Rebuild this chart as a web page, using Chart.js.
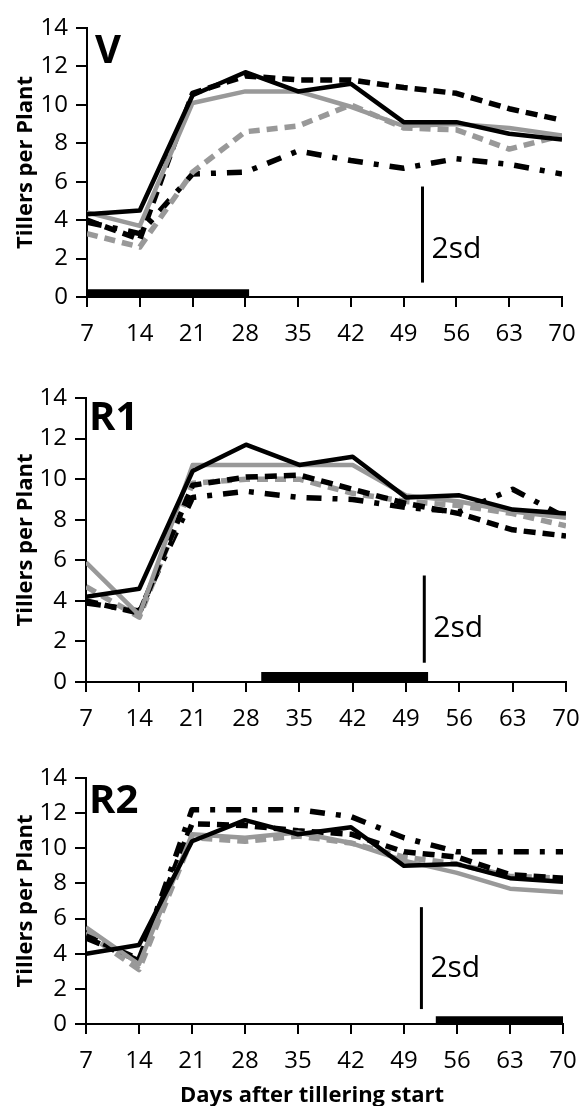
<!DOCTYPE html>
<html>
<head>
<meta charset="utf-8">
<script src="https://cdn.jsdelivr.net/npm/chart.js@4.4.1/dist/chart.umd.min.js"></script>
<style>
  html, body { margin: 0; padding: 0; background: #fff; overflow: hidden; }
  body { width: 580px; height: 1106px; position: relative; }
  canvas { position: absolute; left: 0; display: block; }
</style>
</head>
<body>
<canvas id="chartV" width="580" height="360" style="top:0px"></canvas>
<canvas id="chartR1" width="580" height="400" style="top:350px"></canvas>
<canvas id="chartR2" width="580" height="393" style="top:716px"></canvas>
<script>
// days after tillering start, shared by all panels
const days = [7, 14, 21, 28, 35, 42, 49, 56, 63, 70];
const dayTicks = [7, 14, 21, 28, 35, 42, 49, 56, 63, 70];
const tillerTicks = [0, 2, 4, 6, 8, 10, 12, 14];

// panel V
const vSolidBlack = [4.3, 4.5, 10.5, 11.7, 10.7, 11.1, 9.1, 9.1, 8.5, 8.2];
const vSolidGray  = [4.4, 3.7, 10.1, 10.7, 10.7, 9.9, 8.9, 9.0, 8.8, 8.4];
const vDashBlack  = [4.0, 3.0, 10.6, 11.5, 11.3, 11.3, 10.9, 10.6, 9.8, 9.2];
const vDashGray   = [3.3, 2.6, 6.5, 8.6, 8.9, 10.0, 8.8, 8.7, 7.7, 8.4];
const vDashDot    = [3.9, 3.3, 6.4, 6.5, 7.6, 7.1, 6.7, 7.2, 6.9, 6.4];

// panel R1
const r1SolidBlack = [4.2, 4.6, 10.4, 11.7, 10.7, 11.1, 9.1, 9.2, 8.5, 8.3];
const r1SolidGray  = [5.9, 3.3, 10.7, 10.7, 10.7, 10.7, 9.2, 8.9, 8.4, 8.1];
const r1DashBlack  = [4.0, 3.4, 9.7, 10.1, 10.2, 9.5, 8.8, 8.3, 7.5, 7.2];
const r1DashGray   = [4.7, 3.2, 9.8, 10.0, 10.0, 9.3, 8.9, 8.7, 8.3, 7.7];
const r1DashDot    = [3.9, 3.5, 9.1, 9.4, 9.1, 9.0, 8.6, 8.4, 9.5, 8.1];

// panel R2
const r2SolidBlack = [4.0, 4.5, 10.4, 11.6, 10.8, 11.2, 9.0, 9.1, 8.3, 8.1];
const r2SolidGray  = [5.5, 3.4, 10.8, 10.6, 10.9, 10.3, 9.3, 8.6, 7.7, 7.5];
const r2DashBlack  = [5.0, 3.7, 11.4, 11.3, 11.0, 10.8, 9.8, 9.5, 8.5, 8.3];
const r2DashGray   = [5.2, 3.1, 10.6, 10.4, 10.7, 10.3, 9.5, 9.1, 8.4, 8.3];
const r2DashDot    = [4.9, 3.6, 12.2, 12.2, 12.2, 11.8, 10.6, 9.8, 9.8, 9.8];

// 2sd scale bars (V, R1, R2)
const sdDay  = [51.5, 51.4, 51.3];
const sdLow  = [0.75, 0.95, 0.85];
const sdHigh = [5.75, 5.25, 6.65];

// treatment periods drawn on the x axis (V, R1, R2)
const trtStart = [7, 30, 53.2];
const trtEnd   = [28.5, 51.9, 70];
const trtLevel = [0.2, 0.25, 0.22];

const GRAY = '#999999';
const FONT = '"Open Sans", "DejaVu Sans", sans-serif';

function pts(ys) {
  return days.map((d, i) => ({ x: d, y: ys[i] }));
}

// panel letter, "2sd" text and the shared x title
const panelText = {
  id: 'panelText',
  afterDraw(chart, args, opts) {
    const ctx = chart.ctx;
    const xs = chart.scales.x, ys = chart.scales.y;
    ctx.save();
    ctx.fillStyle = '#000';
    ctx.textBaseline = 'alphabetic';
    ctx.textAlign = 'left';
    ctx.font = 'bold 40px ' + FONT;
    ctx.fillText(opts.letter, opts.letterX, opts.letterY);
    ctx.font = '30px ' + FONT;
    ctx.fillText('2sd', xs.getPixelForValue(opts.sdDay) + 9, ys.getPixelForValue(opts.sdLow) + opts.sdDy);
    if (opts.xTitle) {
      ctx.font = 'bold 22px ' + FONT;
      ctx.textAlign = 'center';
      ctx.textBaseline = 'middle';
      ctx.fillText(opts.xTitle, 312, chart.chartArea.bottom + 72);
    }
    ctx.restore();
  }
};

function makePanel(cfg) {
  const s = cfg.series;
  const line = (data, color, width, dash) => ({
    data: pts(data),
    borderColor: color,
    borderWidth: width,
    borderDash: dash,
    borderJoinStyle: 'round',
    pointRadius: 0,
    tension: 0,
    fill: false
  });

  new Chart(document.getElementById(cfg.id), {
    type: 'line',
    data: {
      datasets: [
        {
          data: [{ x: sdDay[cfg.k], y: sdLow[cfg.k] }, { x: sdDay[cfg.k], y: sdHigh[cfg.k] }],
          borderColor: '#000', borderWidth: 3, pointRadius: 0, clip: false
        },
        {
          data: [{ x: trtStart[cfg.k], y: trtLevel[cfg.k] }, { x: trtEnd[cfg.k], y: trtLevel[cfg.k] }],
          borderColor: '#000', borderWidth: cfg.trtWidth, borderCapStyle: 'butt', pointRadius: 0, clip: false
        },
        line(s[0], '#000', 4.5, []),
        line(s[1], GRAY, 4.5, []),
        line(s[2], '#000', 5.5, [12, 7]),
        line(s[3], GRAY, 5.5, [11, 7]),
        line(s[4], '#000', 5.5, [15, 11, 5, 11])
      ]
    },
    options: {
      responsive: false,
      animation: false,
      devicePixelRatio: 1,
      layout: { padding: { top: cfg.top, right: 580 - cfg.right, left: 0, bottom: 0 } },
      plugins: {
        legend: { display: false },
        tooltip: { enabled: false },
        panelText: {
          letter: cfg.letter, letterX: cfg.letterX, letterY: cfg.letterY,
          sdDay: sdDay[cfg.k], sdLow: sdLow[cfg.k], sdDy: cfg.sdDy,
          xTitle: cfg.xTitle ? 'Days after tillering start' : ''
        }
      },
      scales: {
        x: {
          type: 'linear',
          min: 7,
          max: 70,
          afterBuildTicks: (sc) => { sc.ticks = dayTicks.map(v => ({ value: v })); },
          afterFit: (sc) => {
            sc.height = cfg.height - cfg.bottom;
            sc.paddingLeft = 0;
            sc.paddingRight = 0;
          },
          grid: { drawOnChartArea: false, color: '#000', lineWidth: 2, tickLength: 10 },
          border: { color: '#000', width: 2 },
          ticks: { color: '#000', font: { family: FONT, size: 24 }, padding: 13, maxRotation: 0 }
        },
        y: {
          min: 0,
          max: 14,
          afterBuildTicks: (sc) => { sc.ticks = tillerTicks.map(v => ({ value: v })); },
          afterFit: (sc) => {
            sc.width = cfg.left;
            sc.paddingTop = 0;
            sc.paddingBottom = 0;
          },
          grid: { drawOnChartArea: false, color: '#000', lineWidth: 2, tickLength: 11 },
          border: { color: '#000', width: 2 },
          ticks: { color: '#000', font: { family: FONT, size: 24 }, padding: 8 },
          title: {
            display: true,
            text: 'Tillers per Plant',
            color: '#000',
            font: { family: FONT, size: 22, weight: 'bold' },
            padding: { top: 13, bottom: 0 }
          }
        }
      }
    },
    plugins: [panelText]
  });
}

makePanel({ id: 'chartV', k: 0, letter: 'V', letterX: 95, letterY: 63,
  series: [vSolidBlack, vSolidGray, vDashBlack, vDashGray, vDashDot],
  top: 28, bottom: 297, height: 360, left: 87, right: 562, trtWidth: 8, sdDy: -25, xTitle: false });

makePanel({ id: 'chartR1', k: 1, letter: 'R1', letterX: 89, letterY: 80,
  series: [r1SolidBlack, r1SolidGray, r1DashBlack, r1DashGray, r1DashDot],
  top: 48, bottom: 332, height: 400, left: 86, right: 566, trtWidth: 10, sdDy: -26, xTitle: false });

makePanel({ id: 'chartR2', k: 2, letter: 'R2', letterX: 89, letterY: 97,
  series: [r2SolidBlack, r2SolidGray, r2DashBlack, r2DashGray, r2DashDot],
  top: 62, bottom: 308, height: 393, left: 86, right: 563, trtWidth: 8, sdDy: -32, xTitle: true });
</script>
</body>
</html>
